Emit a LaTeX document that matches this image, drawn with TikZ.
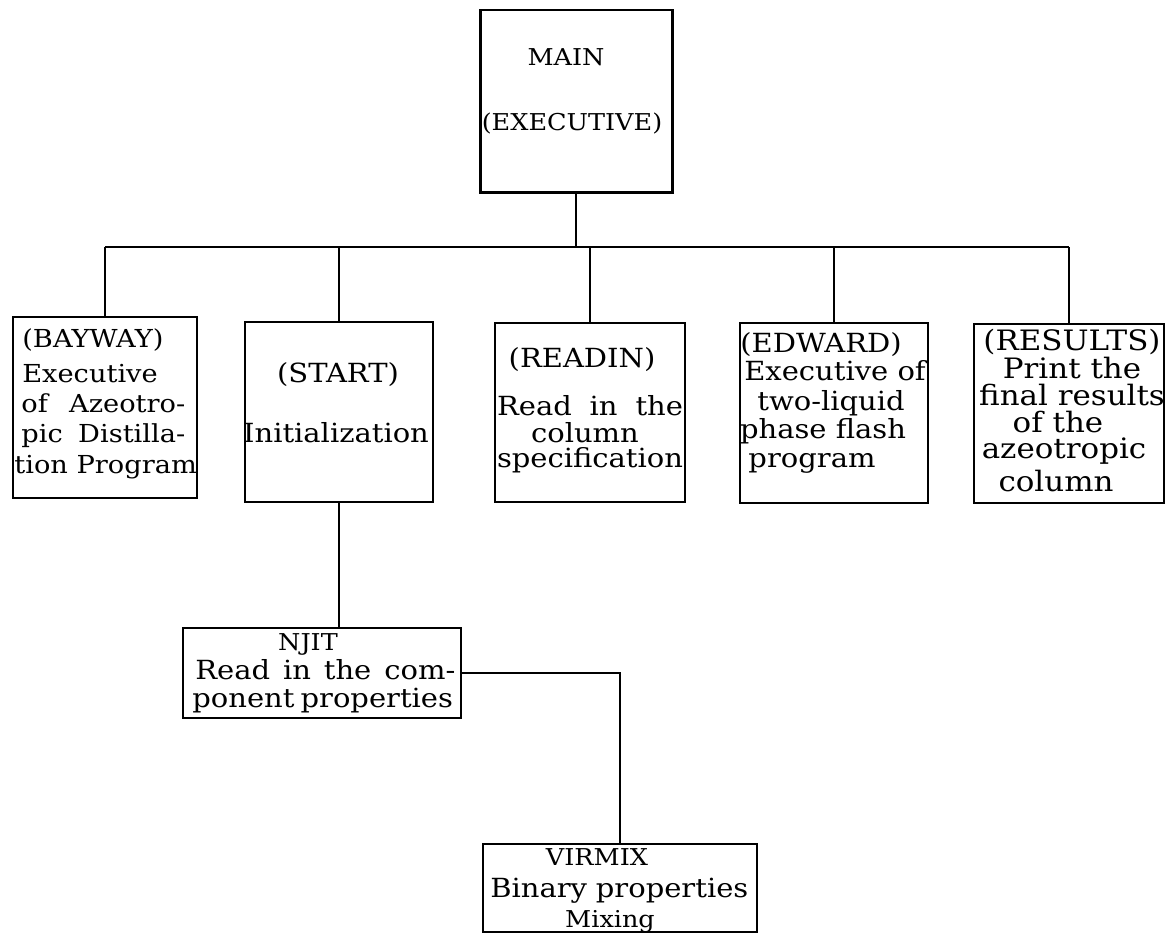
\documentclass[tikz,border=0pt]{standalone}
\usepackage{fontspec}
\setmainfont[FakeStretch=1.1]{DejaVu Serif}
\begin{document}
\begin{tikzpicture}[x=0.02cm,y=-0.02cm,
  box/.style n args={2}{draw, line width=1.1pt, inner sep=0pt,
    minimum width=#1*0.02cm, minimum height=#2*0.02cm},
  wire/.style={line width=1.1pt},
  ln/.style={font=\fontsize{15}{18}\selectfont, inner sep=0pt, anchor=base},
  lnw/.style={ln, anchor=base west},
  small/.style={font=\fontsize{13.2}{16}\selectfont},
  mid/.style={font=\fontsize{14.1}{17}\selectfont},
  wide/.style={font=\fontsize{16}{19}\selectfont}]
\useasboundingbox (0,0) rectangle (1166,934);

% boxes of the program structure
\node[box={192}{182}, line width=1.7pt] (main) at (576,101) {};
\node[box={184}{181}] (bayway)  at (105,407.5) {};
\node[box={188}{180}] (start)   at (339,412) {};
\node[box={190}{179}] (readin)  at (590,412.5) {};
\node[box={188}{180}] (edward)  at (834,413) {};
\node[box={190}{179}] (results) at (1069,413.5) {};
\node[box={278}{90}]  (njit)    at (322,673) {};
\node[box={274}{88}]  (virmix)  at (620,888) {};

% connectors
\coordinate (bus) at (576,247);
\draw[wire] (main.south) -- (bus);
\draw[wire] (bayway.north |- bus) -- (results.north |- bus);
\foreach \n in {bayway,start,readin,edward,results}
  \draw[wire] (\n.north |- bus) -- (\n.north);
\draw[wire] (start.south) -- (start.south |- njit.north);
\draw[wire] (njit.east) -| (virmix.north);

% MAIN
\node[ln, small] (main1) at (566,65) {MAIN};
\node[ln, small] (main2) at (572,130) {(EXECUTIVE)};

% BAYWAY
\node[lnw, mid] (bay1) at (22,347) {(BAYWAY)};
\node[lnw, mid] (bay2) at (22,382) {Executive};
\node[lnw, mid] (bay3) at (21,412) {\makebox[3.28cm][s]{of Azeotro-}};
\node[lnw, mid] (bay4) at (21,442) {\makebox[3.28cm][s]{pic Distilla-}};
\node[lnw, mid] (bay5) at (14,473) {tion Program};

% START
\node[ln] (sta1) at (338,382) {(START)};
\node[ln] (sta2) at (336,442) {Initialization};

% READIN
\node[ln] (rea1) at (582,367) {(READIN)};
\node[ln] (rea2) at (590,415) {\makebox[3.72cm][s]{Read in the}};
\node[ln] (rea3) at (585,442) {column};
\node[ln] (rea4) at (590,467) {specification};

% EDWARD
\node[ln] (edw1) at (821,352) {(EDWARD)};
\node[ln] (edw2) at (835,380) {Executive of};
\node[ln] (edw3) at (831,410) {two-liquid};
\node[ln] (edw4) at (823,438) {phase flash};
\node[ln] (edw5) at (812,467) {program};

% RESULTS
\node[ln, wide] (res1) at (1072,350) {(RESULTS)};
\node[ln, wide] (res2) at (1072,378) {Print the};
\node[ln, wide] (res3) at (1072,405) {final results};
\node[ln, wide] (res4) at (1058,432) {of the};
\node[ln, wide] (res5) at (1064,458) {azeotropic};
\node[ln, wide] (res6) at (1056,491) {column};

% NJIT
\node[ln, small] (nji1) at (308,650) {NJIT};
\node[lnw] (nji2) at (195,679) {\makebox[5.2cm][s]{Read in the com-}};
\node[lnw] (nji3) at (192,707) {\makebox[5.06cm][s]{ponent properties}};

% VIRMIX
\node[ln, small] (vir1) at (597,865) {VIRMIX};
\node[lnw] (vir2) at (490,897) {\makebox[5.16cm][s]{Binary properties}};
\node[ln, small] (vir3) at (610,927) {Mixing};
\end{tikzpicture}
\end{document}
